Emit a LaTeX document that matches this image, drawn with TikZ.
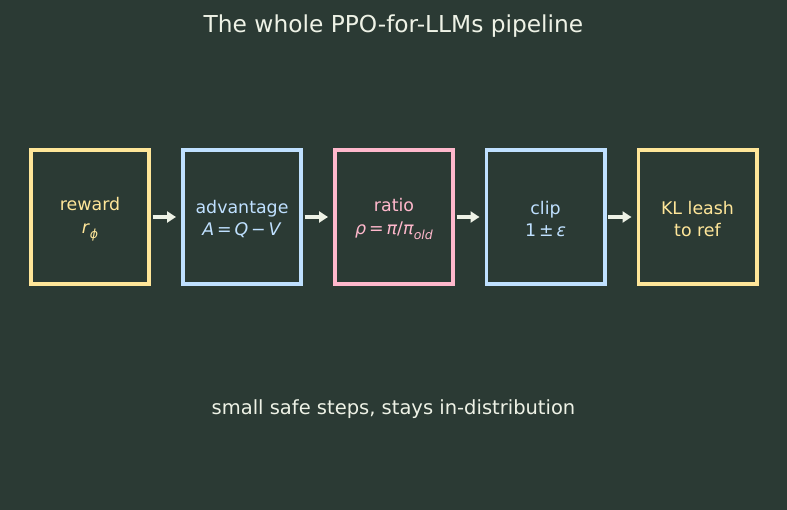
\documentclass[tikz,border=0pt]{standalone}
\usepackage{fontspec}
\setmainfont{DejaVu Sans}
\usetikzlibrary{arrows.meta}
\definecolor{bgc}{HTML}{2B3A34}
\definecolor{ylw}{HTML}{FFE699}
\definecolor{blu}{HTML}{BFE0FF}
\definecolor{pnk}{HTML}{FFB8CC}
\definecolor{wht}{HTML}{EEF2E6}
\newcommand\lowsub[1]{\raisebox{-0.28em}{\fontsize{12.5}{12.5}\selectfont #1}}
\newcommand\topstrut{\rule{0pt}{17.5pt}}
\tikzset{
  stage/.style={draw, line width=3.7pt, minimum width=118.3pt, minimum height=134.3pt, inner sep=0pt,
    align=center, font=\fontsize{17.4}{22.5}\selectfont},
  flow/.style={wht, line width=3.6pt, -{Triangle[length=9pt,width=11pt]}, shorten >=5pt, shorten <=1.5pt},
  caption/.style={text=wht}
}
\begin{document}
\begin{tikzpicture}[x=1pt,y=-1pt]
\fill[bgc] (0,0) rectangle (787,510);
\useasboundingbox (0,0) rectangle (787,510);
\node[caption, font=\fontsize{23.3}{28}\selectfont] (title) at (393.5,26) {The whole PPO-for-LLMs pipeline};
\node[stage, ylw, text=ylw] (rew) at (90,217) {\topstrut reward\\\textit{r}\lowsub{\textit{ϕ}}};
\node[stage, blu, text=blu] (adv) at (242,217) {\topstrut advantage\\\textit{A}\,=\,\textit{Q}\,−\,\textit{V}};
\node[stage, pnk, text=pnk] (rat) at (394,217) {\topstrut ratio\\\textit{ρ}\,=\,\textit{π}/\textit{π}\lowsub{\textit{old}}};
\node[stage, blu, text=blu] (clp) at (545.5,217) {\topstrut clip\\1\,±\,\textit{ε}};
\node[stage, ylw, text=ylw] (kl) at (697.5,217) {\topstrut KL leash\\to ref};
\draw[flow] (rew) -- (adv);
\draw[flow] (adv) -- (rat);
\draw[flow] (rat) -- (clp);
\draw[flow] (clp) -- (kl);
\node[caption, font=\fontsize{19.5}{24}\selectfont] (note) at (393.5,409) {small safe steps, stays in-distribution};
\end{tikzpicture}
\end{document}
